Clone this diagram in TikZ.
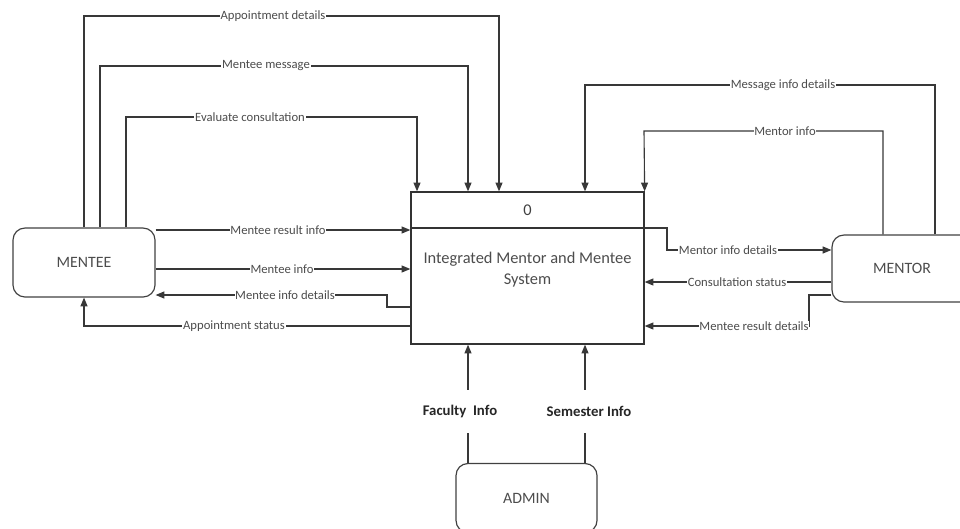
\documentclass[tikz,border=0pt]{standalone}
\usepackage{fontspec}
\setmainfont{Carlito}
\usetikzlibrary{arrows.meta,positioning,calc}

\begin{document}
\begin{tikzpicture}[x=0.03cm,y=-0.03cm,
 ent/.style={draw=black!75,line width=1pt,rounded corners=0.36cm,text=black!70,
  font=\fontsize{13.5}{15}\selectfont,minimum width=#1},
 ent/.default=4.26cm,
 proc/.style={draw=black!80,line width=1.1pt,minimum width=6.99cm,minimum height=4.56cm},
 flow/.style={draw=black!78,line width=0.95pt,-{Triangle[length=7.5pt,width=6pt]}},
 lbl/.style={fill=white,inner sep=0.6pt,text=black!70,font=\fontsize{10.8}{12}\selectfont},
 lblb/.style={fill=white,inner xsep=1pt,minimum height=1.29cm,text=black!85,
  font=\bfseries\fontsize{12.6}{14}\selectfont}]
\useasboundingbox (0,0) rectangle (960,528);
\clip (0,0) rectangle (960,528);
% entities and process
\node [ent,minimum height=2.07cm] (mentee) at (84,262.5) {MENTEE};
\node [ent=4.2cm,minimum height=2.01cm] (mentor) at (902,268.5) {MENTOR};
\node [ent=4.23cm,minimum height=2.07cm] (admin) at (526.5,498) {ADMIN};
\node [proc] (sys) at (527.5,268) {};
\draw [draw=black!80,line width=1.1pt] (sys.west |- 0,228) -- (sys.east |- 0,228);
\node [text=black!75,font=\fontsize{14}{16}\selectfont] (num) at (527.5,210) {0};
\node [align=center,text=black!70,font=\fontsize{14}{17.5}\selectfont] (title) at (527.5,269.5)
 {Integrated Mentor and Mentee\\System};
% flows from MENTEE
\draw [flow] (mentee.north) |- (499,16) -- (sys.north -| 499,0);
\draw [flow] (mentee.north -| 100,0) |- (468,66) -- (sys.north -| 468,0);
\draw [flow] (mentee.north -| 126,0) |- (417,117) -- (sys.north -| 417,0);
\draw [flow] (mentee.east |- 0,230) -- (sys.west |- 0,230);
\draw [flow] (mentee.east |- 0,269) -- (sys.west |- 0,269);
\draw [flow] (sys.west |- 0,307) -| (387,295) -- (mentee.east |- 0,295);
\draw [flow] (sys.west |- 0,326) -| (mentee.south);
% flows from MENTOR
\draw [flow] (mentor.north -| 935,0) |- (585,85) -- (sys.north -| 585,0);
\draw [flow] (mentor.north -| 883,0) |- (644,131) -- (sys.north east);
\draw [flow] (sys.east |- 0,228) -| (667,250) -- (mentor.west |- 0,250);
\draw [flow] (mentor.west |- 0,282) -- (sys.east |- 0,282);
\draw [flow] (mentor.west |- 0,295) -| (809,326) -- (sys.east |- 0,326);
% flows from ADMIN
\draw [flow] (admin.north -| 468,0) -- (sys.south -| 468,0);
\draw [flow] (admin.north -| 585,0) -- (sys.south -| 585,0);
% labels
\node [lbl] (lAppDet) at (273,16) {Appointment details};
\node [lbl] (lMenteeMsg) at (266,66) {Mentee message};
\node [lbl] (lEval) at (250,117) {Evaluate consultation};
\node [lbl] (lResInfo) at (278,230) {Mentee result info};
\node [lbl] (lMenteeInfo) at (282,269) {Mentee info};
\node [lbl] (lInfoDet) at (285,295) {Mentee info details};
\node [lbl] (lAppStat) at (234,326) {Appointment status};
\node [lbl] (lMsgDet) at (783,85) {Message info details};
\node [lbl] (lMentorInfo) at (785,131) {Mentor info};
\node [lbl] (lMentorDet) at (728,250) {Mentor info details};
\node [lbl] (lConsStat) at (737,282) {Consultation status};
\node [lbl] (lResDet) at (754,326) {Mentee result details};
\node [lblb] (lFaculty) at (460,411) {Faculty\ \ Info};
\node [lblb] (lSemester) at (589,411) {Semester Info};
\end{tikzpicture}
\end{document}
